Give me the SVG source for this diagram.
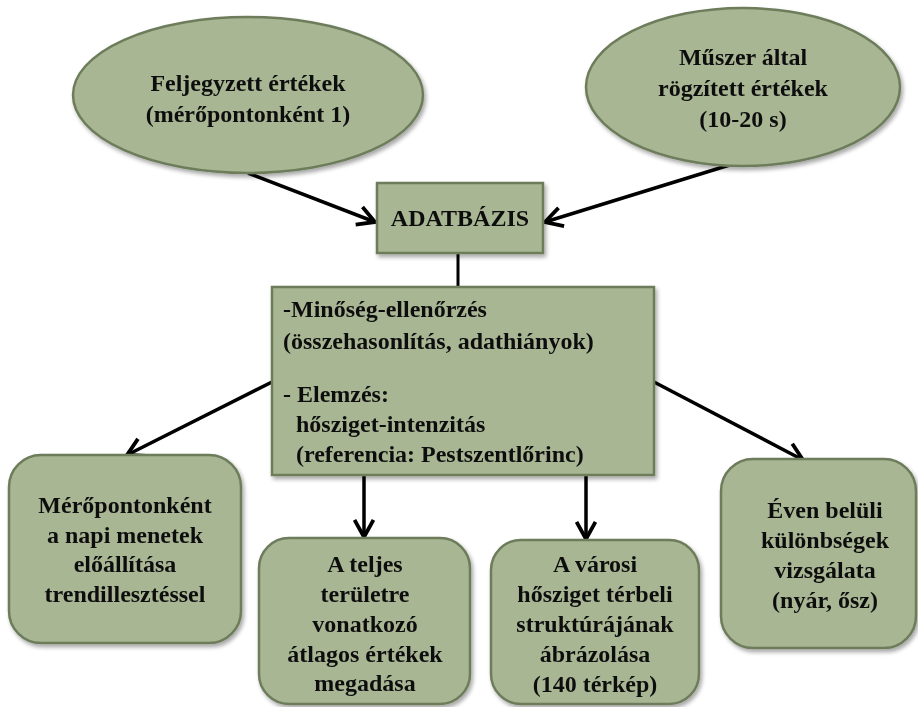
<svg xmlns="http://www.w3.org/2000/svg" width="918" height="707" viewBox="0 0 918 707">
<defs>
<style>
.n{fill:#a8b694;stroke:#6d7c5a;stroke-width:2.5}
.t{font-family:"Liberation Serif","Times New Roman",serif;font-weight:bold;font-size:24px;fill:#111}
.c{text-anchor:middle}
.e{stroke:#000;stroke-width:3.5;fill:none}
</style>
<marker id="a" viewBox="0 0 12 12" refX="10" refY="6" markerWidth="6.5" markerHeight="6.5" markerUnits="strokeWidth" orient="auto">
<path d="M1,1 L10,6 L1,11" fill="none" stroke="#000" stroke-width="2"/>
</marker>
<filter id="s" x="-10%" y="-10%" width="130%" height="130%">
<feGaussianBlur in="SourceAlpha" stdDeviation="2"/>
<feOffset dx="2" dy="3" result="b"/>
<feComponentTransfer><feFuncA type="linear" slope="0.35"/></feComponentTransfer>
<feMerge><feMergeNode/><feMergeNode in="SourceGraphic"/></feMerge>
</filter>
</defs>
<rect width="918" height="707" fill="#fff"/>
<g id="connectors">
<line class="e" x1="248" y1="173" x2="375" y2="222" marker-end="url(#a)"/>
<line class="e" x1="736" y1="163" x2="545" y2="222" marker-end="url(#a)"/>
<line x1="458" y1="253" x2="458" y2="288" stroke="#000" stroke-width="3"/>
<line class="e" x1="272" y1="382" x2="127" y2="455" marker-end="url(#a)"/>
<line class="e" x1="364" y1="476" x2="364" y2="537" marker-end="url(#a)"/>
<line class="e" x1="586" y1="476" x2="586" y2="539" marker-end="url(#a)"/>
<line class="e" x1="654" y1="382" x2="803" y2="460" marker-end="url(#a)"/>
</g>
<g id="n1" filter="url(#s)">
<ellipse class="n" cx="248" cy="95" rx="175" ry="78"/>
<text class="t c" x="248" y="91">Feljegyzett értékek</text>
<text class="t c" x="248" y="122">(mérőpontonként 1)</text>
</g>
<g id="n2" filter="url(#s)">
<ellipse class="n" cx="743" cy="87" rx="157" ry="79"/>
<text class="t c" x="743" y="65">Műszer által</text>
<text class="t c" x="743" y="96">rögzített értékek</text>
<text class="t c" x="743" y="127">(10-20 s)</text>
</g>
<g id="n3" filter="url(#s)">
<rect class="n" x="377" y="183" width="166" height="70"/>
<text class="t c" x="460" y="226">ADATBÁZIS</text>
</g>
<g id="n4" filter="url(#s)">
<rect class="n" x="272" y="287" width="382" height="188"/>
<text class="t" x="283" y="317">-Minőség-ellenőrzés</text>
<text class="t" x="283" y="349">(összehasonlítás, adathiányok)</text>
<text class="t" x="283" y="402">- Elemzés:</text>
<text class="t" x="296" y="432">hősziget-intenzitás</text>
<text class="t" x="296" y="462">(referencia: Pestszentlőrinc)</text>
</g>
<g id="n5" filter="url(#s)">
<rect class="n" x="9" y="455" width="232" height="188" rx="32"/>
<text class="t c" x="125" y="513">Mérőpontonként</text>
<text class="t c" x="125" y="543">a napi menetek</text>
<text class="t c" x="125" y="572">előállítása</text>
<text class="t c" x="125" y="602">trendillesztéssel</text>
</g>
<g id="n6" filter="url(#s)">
<rect class="n" x="259" y="538" width="211" height="166" rx="30"/>
<text class="t c" x="365" y="572">A teljes</text>
<text class="t c" x="365" y="602">területre</text>
<text class="t c" x="365" y="632">vonatkozó</text>
<text class="t c" x="365" y="662">átlagos értékek</text>
<text class="t c" x="365" y="691">megadása</text>
</g>
<g id="n7" filter="url(#s)">
<rect class="n" x="491" y="540" width="208" height="164" rx="30"/>
<text class="t c" x="595" y="572">A városi</text>
<text class="t c" x="595" y="602">hősziget térbeli</text>
<text class="t c" x="595" y="632">struktúrájának</text>
<text class="t c" x="595" y="662">ábrázolása</text>
<text class="t c" x="595" y="692">(140 térkép)</text>
</g>
<g id="n8" filter="url(#s)">
<rect class="n" x="721" y="459" width="195" height="189" rx="32"/>
<text class="t c" x="825" y="518">Éven belüli</text>
<text class="t c" x="825" y="548">különbségek</text>
<text class="t c" x="825" y="578">vizsgálata</text>
<text class="t c" x="825" y="608">(nyár, ősz)</text>
</g>
</svg>
